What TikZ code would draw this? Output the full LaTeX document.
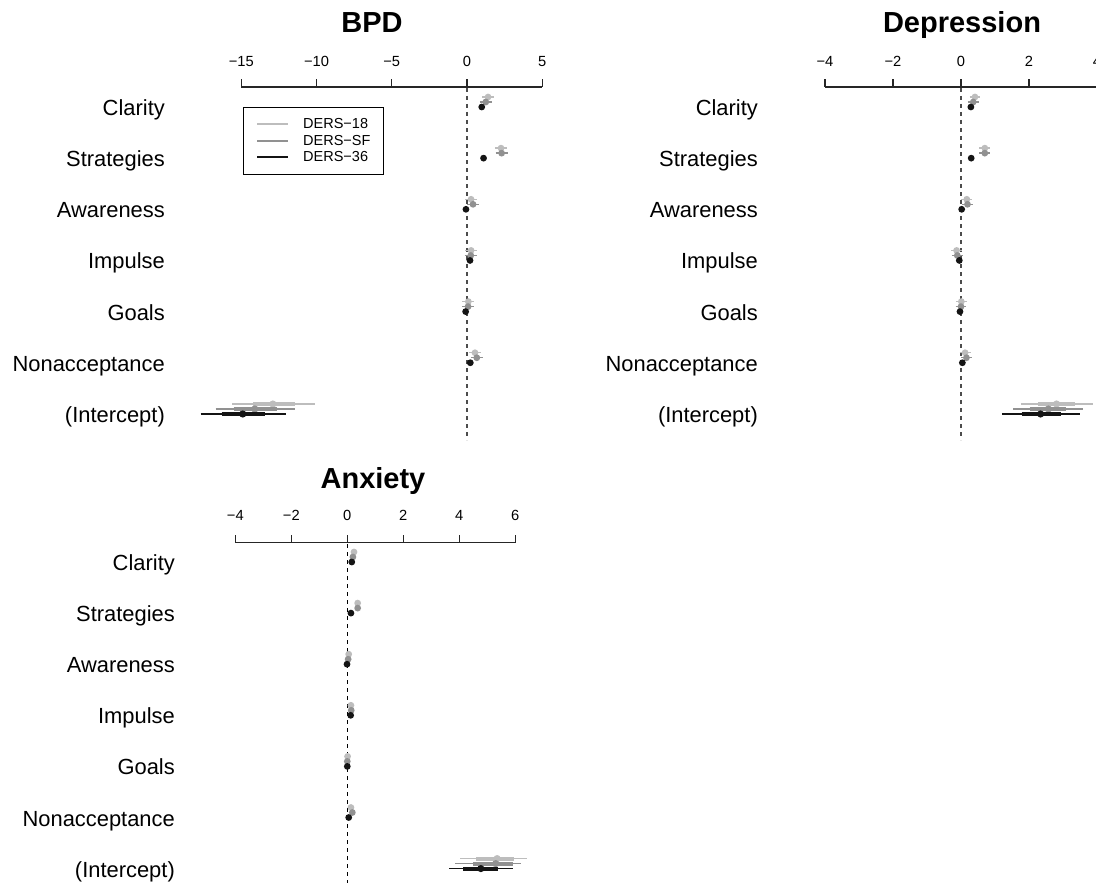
\documentclass[tikz,border=0pt]{standalone}
\usepackage{fontspec}
\setmainfont{Liberation Sans}
\usetikzlibrary{positioning}
\definecolor{dersA}{gray}{0.74}
\definecolor{dersB}{gray}{0.57}
\definecolor{dersC}{gray}{0.08}

\begin{document}
\begin{tikzpicture}[x=1pt,y=-1pt,font=\fontsize{21.9}{26}\selectfont]

	\tikzstyle{rowlabel}=[anchor=base east,inner sep=0pt]
	\tikzstyle{ticklabel}=[anchor=base,inner sep=0pt,font=\fontsize{14.7}{17}\selectfont]
	\tikzstyle{paneltitle}=[anchor=base,inner sep=0pt,font=\fontsize{29}{34}\selectfont\bfseries]
	\tikzstyle{axisline}=[line width=1.2pt,black!85]
	\tikzstyle{zeroline}=[line width=1.3pt,dash pattern=on 4pt off 4pt,black!70]
	\tikzstyle{ci}=[line width=1.4pt]
	\tikzstyle{cithick}=[line width=4pt]
	\tikzstyle{legtext}=[anchor=west,inner sep=0pt,font=\fontsize{14.5}{17}\selectfont]

	\useasboundingbox (0,0) rectangle (1096,883);

	% BPD
	\node[paneltitle] (bpd) at (372,33) {BPD};
	\foreach \s [count=\i from 0] in {Clarity,Strategies,Awareness,Impulse,Goals,Nonacceptance,(Intercept)}
		\node[rowlabel] (bpdrow\i) at (165,{115.5+51.15*\i}) {\s};
	\begin{scope}[shift={(467,0)},x=15.05pt]
		\draw[zeroline] (0,88) -- (0,440);
		\draw[axisline] (-15,87) -- (5,87);
		\foreach \t/\s [count=\i] in {-15/−15,-10/−10,-5/−5,0/0,5/5}{
			\draw[axisline] (\t,87) -- (\t,79);
			\node[ticklabel] (bpdtick\i) at (\t,66.5) {\s};
		}
		\foreach \r/\a/\b/\c in {0/1.4/1.25/0.98,1/2.26/2.3/1.1,2/0.27/0.4/-0.07,3/0.27/0.25/0.2,4/0.09/0.07/-0.09,5/0.53/0.65/0.22}{
			\pgfmathsetmacro\yy{107+51.15*\r}
			\draw[ci,dersA] ({\a-0.4},\yy-10) -- ({\a+0.4},\yy-10);
			\fill[dersA] (\a,\yy-10) circle (3.4pt);
			\draw[ci,dersB] ({\b-0.4},\yy-5) -- ({\b+0.4},\yy-5);
			\fill[dersB] (\b,\yy-5) circle (3.4pt);
			\fill[dersC] (\c,\yy) circle (3.4pt);
		}
		% intercept
		\draw[ci,dersA] (-15.6,404) -- (-10.1,404);
		\draw[cithick,dersA] (-14.2,404) -- (-11.4,404);
		\fill[dersA] (-12.9,404) circle (3.6pt);
		\draw[ci,dersB] (-16.7,409) -- (-11.4,409);
		\draw[cithick,dersB] (-15.5,409) -- (-12.6,409);
		\fill[dersB] (-14.1,409) circle (3.6pt);
		\draw[ci,dersC] (-17.7,414) -- (-12.0,414);
		\draw[cithick,dersC] (-16.3,414) -- (-13.4,414);
		\fill[dersC] (-14.9,414) circle (3.6pt);
	\end{scope}

	% legend
	\node[draw,line width=0.9pt,minimum width=140pt,minimum height=67pt,inner sep=0pt] (legend) at (313,140.5) {};
	\draw[dersA,line width=2.6pt] (257,124) -- (288,124);
	\draw[dersB,line width=2.6pt] (257,141) -- (288,141);
	\draw[dersC,line width=2.6pt] (257,157) -- (288,157);
	\node[legtext] (leg18) at (303,124) {DERS−18};
	\node[legtext] (legsf) at (303,141) {DERS−SF};
	\node[legtext] (leg36) at (303,157) {DERS−36};

	% Depression
	\node[paneltitle] (dep) at (962,33) {Depression};
	\foreach \s [count=\i from 0] in {Clarity,Strategies,Awareness,Impulse,Goals,Nonacceptance,(Intercept)}
		\node[rowlabel] (deprow\i) at (758,{115.5+51.15*\i}) {\s};
	\begin{scope}[shift={(961,0)},x=34pt]
		\draw[zeroline] (0,88) -- (0,440);
		\draw[axisline] (-4,87) -- (4,87);
		\foreach \t/\s [count=\i] in {-4/−4,-2/−2,0/0,2/2,4/4}{
			\draw[axisline] (\t,87) -- (\t,79);
			\node[ticklabel] (deptick\i) at (\t,66.5) {\s};
		}
		\foreach \r/\a/\b/\c in {0/0.41/0.36/0.29,1/0.7/0.7/0.3,2/0.17/0.19/0.02,3/-0.13/-0.11/-0.05,4/0.01/0.0/-0.03,5/0.12/0.16/0.04}{
			\pgfmathsetmacro\yy{107+51.15*\r}
			\draw[ci,dersA] ({\a-0.16},\yy-10) -- ({\a+0.16},\yy-10);
			\fill[dersA] (\a,\yy-10) circle (3.4pt);
			\draw[ci,dersB] ({\b-0.16},\yy-5) -- ({\b+0.16},\yy-5);
			\fill[dersB] (\b,\yy-5) circle (3.4pt);
			\fill[dersC] (\c,\yy) circle (3.4pt);
		}
		% intercept
		\draw[ci,dersA] (1.76,404) -- (3.87,404);
		\draw[cithick,dersA] (2.27,404) -- (3.35,404);
		\fill[dersA] (2.81,404) circle (3.6pt);
		\draw[ci,dersB] (1.53,409) -- (3.6,409);
		\draw[cithick,dersB] (2.02,409) -- (3.08,409);
		\fill[dersB] (2.57,409) circle (3.6pt);
		\draw[ci,dersC] (1.2,414) -- (3.5,414);
		\draw[cithick,dersC] (1.78,414) -- (2.94,414);
		\fill[dersC] (2.34,414) circle (3.6pt);
	\end{scope}

	% Anxiety
	\node[paneltitle] (anx) at (373,488.5) {Anxiety};
	\foreach \s [count=\i from 0] in {Clarity,Strategies,Awareness,Impulse,Goals,Nonacceptance,(Intercept)}
		\node[rowlabel] (anxrow\i) at (175,{570.5+51.1*\i}) {\s};
	\begin{scope}[shift={(347.3,0)},x=28pt]
		\draw[zeroline,black] (0,544) -- (0,883);
		\draw[axisline] (-4,542.7) -- (6,542.7);
		\foreach \t/\s [count=\i] in {-4/−4,-2/−2,0/0,2/2,4/4,6/6}{
			\draw[axisline] (\t,542.7) -- (\t,534.7);
			\node[ticklabel] (anxtick\i) at (\t,520) {\s};
		}
		\foreach \r/\a/\b/\c in {0/0.24/0.2/0.16,1/0.37/0.37/0.13,2/0.05/0.03/-0.01,3/0.13/0.14/0.12,4/0.01/0.0/0.0,5/0.13/0.18/0.05}{
			\pgfmathsetmacro\yy{562+51.1*\r}
			\fill[dersA] (\a,\yy-10) circle (3.4pt);
			\fill[dersB] (\b,\yy-5) circle (3.4pt);
			\fill[dersC] (\c,\yy) circle (3.4pt);
		}
		% intercept
		\draw[ci,dersA] (4.04,858.6) -- (6.43,858.6);
		\draw[cithick,dersA] (4.6,858.6) -- (5.95,858.6);
		\fill[dersA] (5.35,858.6) circle (3.6pt);
		\draw[ci,dersB] (3.86,863.6) -- (6.2,863.6);
		\draw[cithick,dersB] (4.5,863.6) -- (5.9,863.6);
		\fill[dersB] (5.3,863.6) circle (3.6pt);
		\draw[ci,dersC] (3.64,868.6) -- (5.93,868.6);
		\draw[cithick,dersC] (4.14,868.6) -- (5.39,868.6);
		\fill[dersC] (4.77,868.6) circle (3.6pt);
	\end{scope}
\end{tikzpicture}
\end{document}
